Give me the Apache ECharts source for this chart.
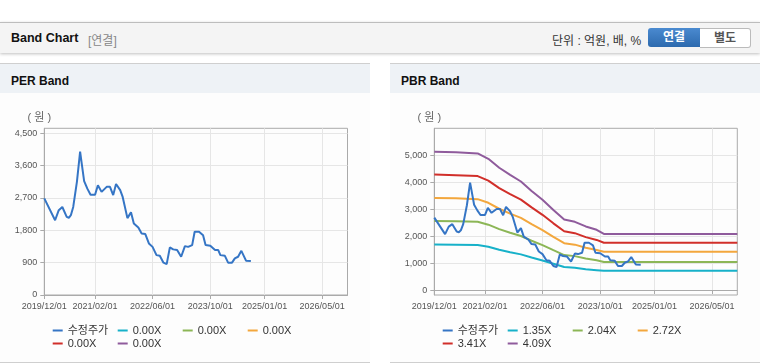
<!DOCTYPE html>
<html><head><meta charset="utf-8">
<script src="https://cdn.jsdelivr.net/npm/echarts@6/dist/echarts.min.js"></script>
<style>
body{margin:0;width:760px;height:364px;overflow:hidden;background:#fff;font-family:'Liberation Sans','Noto Sans CJK KR',sans-serif;position:relative}
#hdr{position:absolute;left:0;top:22px;width:760px;height:30px;background:#f4f4f4;border-top:1px solid #bdbdbd;box-shadow:0 1px 3px rgba(0,0,0,0.25)}
#hdr .t{position:absolute;left:11px;top:8px;font-size:12.5px;font-weight:bold;color:#111}
#hdr .s{position:absolute;left:88px;top:8px;font-size:12px;color:#888}
#unit{position:absolute;left:552px;top:8px;font-size:12px;color:#333}
.btn{position:absolute;top:5px;height:19px;line-height:19px;font-size:12px;font-weight:bold;text-align:center}
#b1{left:648px;width:52px;background:linear-gradient(#4a8ad0,#2d6aae);color:#fff;border-radius:3px 0 0 3px}
#b2{left:700px;width:50px;background:#fff;color:#555;border:1px solid #bbb;border-left:none;border-radius:0 3px 3px 0;height:18px;line-height:18px;top:5px}
.panel{position:absolute;top:63px;width:370px;height:298px;border-top:1px solid #cfcfcf;border-bottom:1px solid #cfcfcf;background:#fdfdfd}
.ph{position:absolute;left:0;top:0;width:370px;height:29px;background:#eef2f6}
.ph span{position:absolute;left:11px;top:10px;font-size:12px;font-weight:bold;color:#111}
#chart{position:absolute;left:0;top:0;width:760px;height:364px}
</style></head>
<body>
<div id="hdr"><span class="t">Band Chart</span><span class="s">[연결]</span>
<span id="unit">단위 : 억원, 배, %</span>
<div class="btn" id="b1">연결</div><div class="btn" id="b2">별도</div></div>
<div class="panel" style="left:0"><div class="ph"><span>PER Band</span></div></div>
<div class="panel" style="left:390px"><div class="ph"><span>PBR Band</span></div></div>
<div id="chart"></div>
<script>
const priceDates = ['2019-12-01','2020-03-01','2020-04-01','2020-05-01','2020-06-07','2020-06-25','2020-07-12','2020-08-01','2020-09-01','2020-09-28','2020-10-10','2020-11-01','2020-11-28','2020-12-25','2021-02-01','2021-02-25','2021-03-28','2021-05-10','2021-06-07','2021-07-04','2021-07-28','2021-09-01','2021-09-22','2021-11-01','2021-12-01','2021-12-25','2022-02-01','2022-03-01','2022-04-01','2022-05-01','2022-06-01','2022-07-04','2022-08-01','2022-09-01','2022-09-28','2022-10-25','2022-11-22','2022-12-25','2023-01-28','2023-03-01','2023-03-28','2023-05-01','2023-05-22','2023-06-28','2023-08-01','2023-08-22','2023-10-01','2023-11-10','2023-12-07','2023-12-25','2024-02-01','2024-02-28','2024-04-01','2024-04-25','2024-05-22','2024-06-19','2024-07-28','2024-09-07'];
const priceValues = [2690,2080,2360,2450,2175,2150,2220,2450,3150,3990,3700,3170,2960,2790,2790,3055,2870,3010,3010,2780,3090,2920,2730,2140,2300,1990,1880,1710,1695,1435,1340,1110,1090,900,860,1325,1270,1250,1065,1360,1340,1390,1760,1760,1665,1390,1370,1250,1250,1110,1090,900,900,1020,1065,1230,955,945];
const bandDates = ['2019-12-01','2020-06-01','2020-12-01','2021-03-01','2021-06-01','2021-09-01','2021-12-01','2022-03-01','2022-06-01','2022-09-01','2022-12-01','2023-03-01','2023-06-01','2023-09-01','2023-11-01','2026-12-01'];
const band135 = [1700,1690,1675,1610,1500,1410,1330,1215,1105,985,865,835,780,745,720,720];
const band204 = [2570,2555,2535,2430,2265,2130,2010,1835,1670,1485,1305,1265,1180,1115,1050,1050];
const band272 = [3420,3405,3375,3240,3020,2840,2680,2450,2230,1980,1745,1690,1575,1490,1425,1425];
const band341 = [4285,4265,4230,4060,3785,3565,3360,3070,2795,2480,2185,2115,1970,1865,1760,1760];
const band409 = [5130,5110,5070,4870,4540,4275,4030,3680,3355,2975,2620,2535,2365,2240,2085,2085];
const xTickDates = ['2019-12-01','2021-02-01','2022-06-01','2023-10-01','2025-01-01','2026-05-01'];
const perTicks = [0,900,1800,2700,3600,4500];
const pbrTicks = [0,1000,2000,3000,4000,5000];
const perLegendLabels = ['수정주가','0.00X','0.00X','0.00X','0.00X','0.00X'];
const pbrLegendLabels = ['수정주가','1.35X','2.04X','2.72X','3.41X','4.09X'];

const T = s => +echarts.time.parse(s);
const colors = ['#3575c5','#17b1c9','#8cb656','#f3a73d','#d12f2a','#8f5b9c'];
const pairs = (d, v) => d.map((s, i) => [T(s), v[i]]);
const xMin = T('2019-12-01'), xMax = T('2026-12-01');
const xTicks = xTickDates.map(T);
const font = "'Liberation Sans','Noto Sans CJK KR',sans-serif";

function xAxis(g){
  return {gridIndex:g,type:'value',min:xMin,max:xMax,
    axisLine:{lineStyle:{color:'#aaa'}},
    axisTick:{show:true,customValues:xTicks,length:4,lineStyle:{color:'#aaa'}},
    axisLabel:{customValues:xTicks,margin:7,fontSize:9,color:'#555',fontFamily:font,
      formatter:v=>echarts.time.format(v,'{yyyy}/{MM}/{dd}',false)},
    splitLine:{show:true,lineStyle:{color:'#e6e6e6'}}};
}
function yAxis(g,min,max,ticks){
  return {gridIndex:g,type:'value',min:min,max:max,name:'( 원 )',nameLocation:'end',nameGap:5,
    nameTextStyle:{color:'#666',fontSize:11,fontFamily:font,padding:[0,10,0,0]},
    axisLine:{show:true,lineStyle:{color:'#aaa'}},
    axisTick:{show:true,customValues:ticks,length:4,lineStyle:{color:'#aaa'}},
    axisLabel:{customValues:ticks,margin:7,fontSize:9,color:'#555',fontFamily:font,
      formatter:v=>v.toLocaleString('en-US')},
    splitLine:{show:true,lineStyle:{color:'#e6e6e6'}}};
}
const perNames = perLegendLabels.map((_, i) => 'per' + i);
const pbrNames = pbrLegendLabels.map((_, i) => 'pbr' + i);
const labelMap = {};
perNames.forEach((n, i) => labelMap[n] = perLegendLabels[i]);
pbrNames.forEach((n, i) => labelMap[n] = pbrLegendLabels[i]);

function line(name, g, data, c){
  return {name:name,type:'line',xAxisIndex:g,yAxisIndex:g,data:data,showSymbol:false,
    color:c,lineStyle:{width:2,color:c},itemStyle:{color:c}};
}
const pbrBands = [band135, band204, band272, band341, band409];
const series = [line(perNames[0],0,pairs(priceDates,priceValues),colors[0])];
for (let i = 1; i < 6; i++) series.push(line(perNames[i],0,[],colors[i]));
for (let i = 1; i < 6; i++) series.push(line(pbrNames[i],1,pairs(bandDates,pbrBands[i-1]),colors[i]));
series.push(line(pbrNames[0],1,pairs(priceDates,priceValues),colors[0]));

function legend(left, names){
  return {data:names,left:left,top:324,width:262,padding:0,itemGap:0,itemWidth:10,itemHeight:2,
    icon:'rect',formatter:n=>labelMap[n],
    textStyle:{fontSize:11,color:'#333',fontFamily:font,width:50,lineHeight:13}};
}
const chart = echarts.init(document.getElementById('chart'));
chart.setOption({
  animation:false,
  grid:[
    {left:44.3,top:128.3,width:303.2,height:166.7,show:true,borderColor:'#aaa',borderWidth:1,backgroundColor:'transparent'},
    {left:434.3,top:128.3,width:303,height:166.7,show:true,borderColor:'#aaa',borderWidth:1,backgroundColor:'transparent'}
  ],
  xAxis:[xAxis(0),xAxis(1)],
  yAxis:[yAxis(0,0,4640,perTicks),yAxis(1,-175,6000,pbrTicks)],
  legend:[legend(52.7,perNames),legend(442.7,pbrNames)],
  series:series
});
</script>
</body></html>
